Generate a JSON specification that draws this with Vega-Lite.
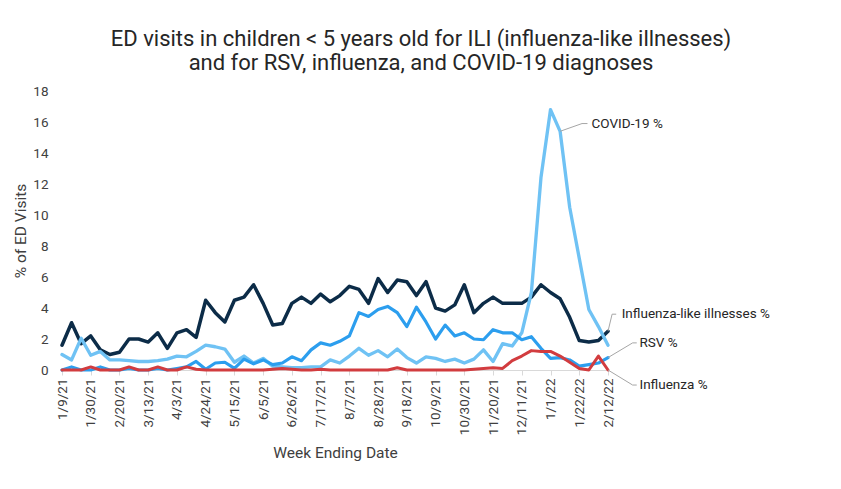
{
  "$schema": "https://vega.github.io/schema/vega-lite/v6.json",
  "width": 546,
  "height": 279,
  "autosize": {"type": "none"},
  "padding": {"left": 62, "top": 91, "right": 233, "bottom": 119},
  "background": "white",
  "title": {
    "text": ["ED visits in children < 5 years old for ILI (influenza-like illnesses)", "and for RSV, influenza, and COVID-19 diagnoses"],
    "font": "Roboto",
    "fontSize": 22,
    "fontWeight": "normal",
    "color": "#262626",
    "anchor": "middle",
    "dx": 86,
    "offset": 9,
    "lineHeight": 24
  },
  "datasets": {
    "weekly": [
      {"date": "2021-01-09", "ILI": 1.6, "COVID": 1.0, "RSV": 0.0, "Flu": 0.0},
      {"date": "2021-01-16", "ILI": 3.05, "COVID": 0.65, "RSV": 0.2, "Flu": 0.0},
      {"date": "2021-01-23", "ILI": 1.7, "COVID": 2.05, "RSV": 0.0, "Flu": 0.0},
      {"date": "2021-01-30", "ILI": 2.2, "COVID": 0.95, "RSV": 0.0, "Flu": 0.2},
      {"date": "2021-02-06", "ILI": 1.3, "COVID": 1.2, "RSV": 0.2, "Flu": 0.0},
      {"date": "2021-02-13", "ILI": 1.0, "COVID": 0.65, "RSV": 0.0, "Flu": 0.0},
      {"date": "2021-02-20", "ILI": 1.15, "COVID": 0.65, "RSV": 0.0, "Flu": 0.0},
      {"date": "2021-02-27", "ILI": 2.0, "COVID": 0.6, "RSV": 0.1, "Flu": 0.2},
      {"date": "2021-03-06", "ILI": 2.0, "COVID": 0.55, "RSV": 0.0, "Flu": 0.0},
      {"date": "2021-03-13", "ILI": 1.8, "COVID": 0.55, "RSV": 0.0, "Flu": 0.0},
      {"date": "2021-03-20", "ILI": 2.4, "COVID": 0.6, "RSV": 0.1, "Flu": 0.2},
      {"date": "2021-03-27", "ILI": 1.4, "COVID": 0.7, "RSV": 0.0, "Flu": 0.0},
      {"date": "2021-04-03", "ILI": 2.4, "COVID": 0.9, "RSV": 0.1, "Flu": 0.0},
      {"date": "2021-04-10", "ILI": 2.6, "COVID": 0.85, "RSV": 0.2, "Flu": 0.2},
      {"date": "2021-04-17", "ILI": 2.1, "COVID": 1.2, "RSV": 0.55, "Flu": 0.05},
      {"date": "2021-04-24", "ILI": 4.5, "COVID": 1.6, "RSV": 0.05, "Flu": 0.0},
      {"date": "2021-05-01", "ILI": 3.7, "COVID": 1.5, "RSV": 0.45, "Flu": 0.0},
      {"date": "2021-05-08", "ILI": 3.1, "COVID": 1.35, "RSV": 0.5, "Flu": 0.0},
      {"date": "2021-05-15", "ILI": 4.5, "COVID": 0.5, "RSV": 0.1, "Flu": 0.0},
      {"date": "2021-05-22", "ILI": 4.7, "COVID": 0.9, "RSV": 0.7, "Flu": 0.0},
      {"date": "2021-05-29", "ILI": 5.5, "COVID": 0.45, "RSV": 0.4, "Flu": 0.0},
      {"date": "2021-06-05", "ILI": 4.3, "COVID": 0.75, "RSV": 0.65, "Flu": 0.0},
      {"date": "2021-06-12", "ILI": 2.9, "COVID": 0.25, "RSV": 0.35, "Flu": 0.05},
      {"date": "2021-06-19", "ILI": 3.0, "COVID": 0.2, "RSV": 0.45, "Flu": 0.1},
      {"date": "2021-06-26", "ILI": 4.3, "COVID": 0.15, "RSV": 0.85, "Flu": 0.05},
      {"date": "2021-07-03", "ILI": 4.7, "COVID": 0.15, "RSV": 0.6, "Flu": 0.0},
      {"date": "2021-07-10", "ILI": 4.3, "COVID": 0.2, "RSV": 1.3, "Flu": 0.0},
      {"date": "2021-07-17", "ILI": 4.9, "COVID": 0.2, "RSV": 1.75, "Flu": 0.05},
      {"date": "2021-07-24", "ILI": 4.4, "COVID": 0.65, "RSV": 1.6, "Flu": 0.0},
      {"date": "2021-07-31", "ILI": 4.8, "COVID": 0.45, "RSV": 1.85, "Flu": 0.0},
      {"date": "2021-08-07", "ILI": 5.4, "COVID": 0.9, "RSV": 2.2, "Flu": 0.0},
      {"date": "2021-08-14", "ILI": 5.2, "COVID": 1.4, "RSV": 3.7, "Flu": 0.0},
      {"date": "2021-08-21", "ILI": 4.3, "COVID": 0.95, "RSV": 3.45, "Flu": 0.0},
      {"date": "2021-08-28", "ILI": 5.9, "COVID": 1.25, "RSV": 3.9, "Flu": 0.0},
      {"date": "2021-09-04", "ILI": 5.0, "COVID": 0.85, "RSV": 4.1, "Flu": 0.0},
      {"date": "2021-09-11", "ILI": 5.8, "COVID": 1.35, "RSV": 3.7, "Flu": 0.15},
      {"date": "2021-09-18", "ILI": 5.7, "COVID": 0.8, "RSV": 2.8, "Flu": 0.0},
      {"date": "2021-09-25", "ILI": 4.8, "COVID": 0.45, "RSV": 4.05, "Flu": 0.0},
      {"date": "2021-10-02", "ILI": 5.7, "COVID": 0.85, "RSV": 3.1, "Flu": 0.0},
      {"date": "2021-10-09", "ILI": 4.0, "COVID": 0.75, "RSV": 2.0, "Flu": 0.0},
      {"date": "2021-10-16", "ILI": 3.8, "COVID": 0.55, "RSV": 2.9, "Flu": 0.0},
      {"date": "2021-10-23", "ILI": 4.2, "COVID": 0.7, "RSV": 2.2, "Flu": 0.0},
      {"date": "2021-10-30", "ILI": 5.5, "COVID": 0.45, "RSV": 2.4, "Flu": 0.0},
      {"date": "2021-11-06", "ILI": 3.7, "COVID": 0.7, "RSV": 2.0, "Flu": 0.05},
      {"date": "2021-11-13", "ILI": 4.3, "COVID": 1.3, "RSV": 1.95, "Flu": 0.1},
      {"date": "2021-11-20", "ILI": 4.7, "COVID": 0.55, "RSV": 2.6, "Flu": 0.15},
      {"date": "2021-11-27", "ILI": 4.3, "COVID": 1.7, "RSV": 2.4, "Flu": 0.1},
      {"date": "2021-12-04", "ILI": 4.3, "COVID": 1.55, "RSV": 2.4, "Flu": 0.6},
      {"date": "2021-12-11", "ILI": 4.3, "COVID": 2.4, "RSV": 1.95, "Flu": 0.9},
      {"date": "2021-12-18", "ILI": 4.7, "COVID": 5.0, "RSV": 2.15, "Flu": 1.25},
      {"date": "2021-12-25", "ILI": 5.5, "COVID": 12.4, "RSV": 1.4, "Flu": 1.2},
      {"date": "2022-01-01", "ILI": 5.0, "COVID": 16.8, "RSV": 0.75, "Flu": 1.2},
      {"date": "2022-01-08", "ILI": 4.6, "COVID": 15.4, "RSV": 0.8, "Flu": 0.9},
      {"date": "2022-01-15", "ILI": 3.4, "COVID": 10.5, "RSV": 0.65, "Flu": 0.5},
      {"date": "2022-01-22", "ILI": 1.9, "COVID": 7.2, "RSV": 0.25, "Flu": 0.1},
      {"date": "2022-01-29", "ILI": 1.8, "COVID": 3.9, "RSV": 0.35, "Flu": 0.0},
      {"date": "2022-02-05", "ILI": 1.9, "COVID": 2.8, "RSV": 0.45, "Flu": 0.9},
      {"date": "2022-02-12", "ILI": 2.5, "COVID": 1.6, "RSV": 0.8, "Flu": 0.0}
    ],
    "labels": [
      {"label": "COVID-19 %", "date": "2022-01-31", "value": 15.9},
      {"label": "Influenza-like illnesses %", "date": "2022-02-22", "value": 3.6},
      {"label": "RSV %", "date": "2022-03-07", "value": 1.75},
      {"label": "Influenza %", "date": "2022-03-07", "value": -0.97}
    ],
    "leaders": [
      {"leader": "COVID", "order": 1, "date": "2022-01-08", "value": 15.4},
      {"leader": "COVID", "order": 2, "date": "2022-01-24", "value": 15.9},
      {"leader": "COVID", "order": 3, "date": "2022-01-28", "value": 15.9},
      {"leader": "ILI", "order": 1, "date": "2022-02-12", "value": 2.5},
      {"leader": "ILI", "order": 2, "date": "2022-02-15", "value": 3.6},
      {"leader": "ILI", "order": 3, "date": "2022-02-18", "value": 3.6},
      {"leader": "RSV", "order": 1, "date": "2022-02-12", "value": 0.8},
      {"leader": "RSV", "order": 2, "date": "2022-03-02", "value": 1.75},
      {"leader": "RSV", "order": 3, "date": "2022-03-05", "value": 1.75},
      {"leader": "Flu", "order": 1, "date": "2022-02-12", "value": 0.0},
      {"leader": "Flu", "order": 2, "date": "2022-03-02", "value": -0.97},
      {"leader": "Flu", "order": 3, "date": "2022-03-05", "value": -0.97}
    ]
  },
  "encoding": {
    "x": {
      "field": "date",
      "type": "temporal",
      "scale": {"type": "utc", "domain": [{"year": 2021, "month": 1, "date": 9, "utc": true}, {"year": 2022, "month": 2, "date": 12, "utc": true}], "nice": false},
      "axis": {
        "title": "Week Ending Date",
        "values": [
          {"year": 2021, "month": 1, "date": 9, "utc": true},
          {"year": 2021, "month": 1, "date": 30, "utc": true},
          {"year": 2021, "month": 2, "date": 20, "utc": true},
          {"year": 2021, "month": 3, "date": 13, "utc": true},
          {"year": 2021, "month": 4, "date": 3, "utc": true},
          {"year": 2021, "month": 4, "date": 24, "utc": true},
          {"year": 2021, "month": 5, "date": 15, "utc": true},
          {"year": 2021, "month": 6, "date": 5, "utc": true},
          {"year": 2021, "month": 6, "date": 26, "utc": true},
          {"year": 2021, "month": 7, "date": 17, "utc": true},
          {"year": 2021, "month": 8, "date": 7, "utc": true},
          {"year": 2021, "month": 8, "date": 28, "utc": true},
          {"year": 2021, "month": 9, "date": 18, "utc": true},
          {"year": 2021, "month": 10, "date": 9, "utc": true},
          {"year": 2021, "month": 10, "date": 30, "utc": true},
          {"year": 2021, "month": 11, "date": 20, "utc": true},
          {"year": 2021, "month": 12, "date": 11, "utc": true},
          {"year": 2022, "month": 1, "date": 1, "utc": true},
          {"year": 2022, "month": 1, "date": 22, "utc": true},
          {"year": 2022, "month": 2, "date": 12, "utc": true}
        ],
        "labelExpr": "utcFormat(datum.value, '%-m/%-d/%y')",
        "labelAngle": 270,
        "labelFontSize": 13.5,
        "labelPadding": 3,
        "labelOverlap": false,
        "labelFlush": false,
        "tickSize": 5,
        "tickColor": "#d9d9d9",
        "domainColor": "#d9d9d9",
        "grid": false,
        "titleFontSize": 15.5,
        "titlePadding": 11
      }
    },
    "y": {
      "field": "value",
      "type": "quantitative",
      "scale": {"domain": [0, 18], "nice": false, "zero": false},
      "axis": {
        "title": "% of ED Visits",
        "values": [0, 2, 4, 6, 8, 10, 12, 14, 16, 18],
        "domain": false,
        "ticks": false,
        "grid": false,
        "labelFontSize": 13.5,
        "labelPadding": 14,
        "titleFontSize": 15.5,
        "titlePadding": 4
      }
    }
  },
  "layer": [
    {
      "data": {"name": "weekly"},
      "transform": [{"fold": ["ILI", "COVID", "RSV", "Flu"], "as": ["series", "value"]}],
      "mark": {"type": "line", "strokeJoin": "round", "strokeCap": "round"},
      "encoding": {
        "color": {"field": "series", "type": "nominal", "scale": {"domain": ["ILI", "COVID", "RSV", "Flu"], "range": ["#0c2c48", "#6fc2f4", "#2c9eee", "#d23c3f"]}, "legend": null},
        "strokeWidth": {"field": "series", "type": "nominal", "scale": {"domain": ["ILI", "COVID", "RSV", "Flu"], "range": [3.5, 3, 3, 3]}, "legend": null}
      }
    },
    {
      "data": {"name": "leaders"},
      "mark": {"type": "line", "color": "#a6a6a6", "strokeWidth": 1, "clip": false},
      "encoding": {
        "detail": {"field": "leader"},
        "order": {"field": "order", "type": "quantitative"}
      }
    },
    {
      "data": {"name": "labels"},
      "mark": {"type": "text", "align": "left", "baseline": "middle", "font": "Roboto", "fontSize": 13.5, "color": "#262626"},
      "encoding": {"text": {"field": "label"}}
    }
  ],
  "config": {
    "font": "Roboto",
    "view": {"stroke": null},
    "axis": {"labelFont": "Roboto", "titleFont": "Roboto", "labelColor": "#404040", "titleColor": "#404040", "titleFontWeight": "normal"}
  }
}
